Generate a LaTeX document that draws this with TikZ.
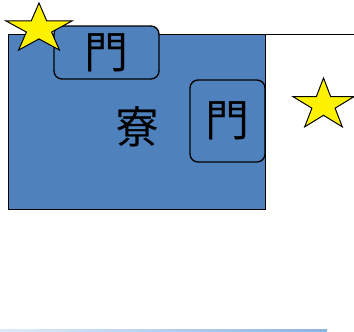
\documentclass[tikz,border=0pt]{standalone}
\usepackage{fontspec}
\newfontfamily\cjk{Noto Sans CJK JP}
\definecolor{boxblue}{HTML}{4F81BD}
\definecolor{barlight}{HTML}{DCEBF9}
\definecolor{bardark}{HTML}{8DB3E2}
\begin{document}
\begin{tikzpicture}[x=1pt,y=-1pt,
  bigtext/.style={font=\cjk\fontsize{44}{44}\selectfont, inner sep=0pt},
  gatebox/.style={draw=black, line width=1.3pt, fill=boxblue, rounded corners=8pt, inner sep=0pt, bigtext},
  starshape/.style={draw=black, line width=1pt, fill=yellow, line join=miter}]
\useasboundingbox (0,0) rectangle (354,332);
% bottom gradient bar
\fill[left color=barlight, right color=bardark] (0,329) rectangle (327,332);
% dormitory block
\node[draw=black, line width=1.3pt, fill=boxblue, minimum width=257pt, minimum height=175pt, inner sep=0pt, anchor=north west] (dorm) at (8,34) {};
\coordinate (edge) at (354,34);
\draw[line width=1pt] (dorm.north east) -- (edge);
\node[bigtext] (ryo) at (137,127) {寮};
\node[gatebox, minimum width=105pt, minimum height=53pt] (gate1) at (106.5,52.5) {門};
\node[gatebox, minimum width=75pt, minimum height=82pt] (gate2) at (227.5,121) {門};
% stars
\draw[starstyle/.style={}, starshape, shift={(39,29)}, xscale=34.7, yscale=26]
  (270:1) -- (306:0.382) -- (342:1) -- (18:0.382) -- (54:1) -- (90:0.382) -- (126:1) -- (162:0.382) -- (198:1) -- (234:0.382) -- cycle;
\draw[starshape, shift={(323.5,105)}, xscale=32, yscale=27]
  (270:1) -- (306:0.382) -- (342:1) -- (18:0.382) -- (54:1) -- (90:0.382) -- (126:1) -- (162:0.382) -- (198:1) -- (234:0.382) -- cycle;
\end{tikzpicture}
\end{document}
